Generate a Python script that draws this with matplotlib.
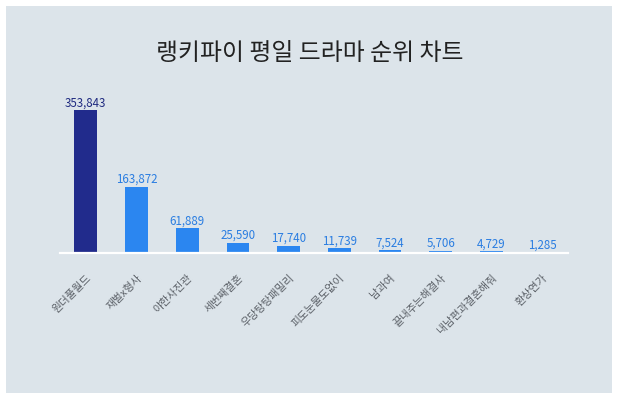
import matplotlib
matplotlib.use("Agg")
import matplotlib.pyplot as plt
from matplotlib.patches import Rectangle

plt.rcParams['font.family'] = ['Noto Sans CJK KR', 'DejaVu Sans']

# 데이터
titles = ['원더풀월드', '재벌x형사', '야한사진관', '세번째결혼', '우당탕탕패밀리',
          '피도눈물도없이', '남과여', '끝내주는해결사', '내남편과결혼해줘', '환상연가']
votes = [353843, 163872, 61889, 25590, 17740, 11739, 7524, 5706, 4729, 1285]
chart_title = '랭키파이 평일 드라마 순위 차트'

bg = '#dce4ea'
top_color = '#212b8c'
bar_color = '#2b86f0'
top_text = '#1f2a80'
bar_text = '#2a7de1'

fig = plt.figure(figsize=(6.2, 3.99), dpi=100, facecolor='white')
# 배경 패널
fig.patches.append(Rectangle((6 / 620, 6 / 399), 606 / 620, 387 / 399,
                             transform=fig.transFigure, facecolor=bg,
                             edgecolor='none', zorder=-5))

ax = fig.add_axes([60 / 620, (399 - 253) / 399, 508 / 620, 143 / 399])
ax.set_facecolor('none')
ax.set_zorder(2)

x = list(range(len(titles)))
colors = [top_color] + [bar_color] * (len(titles) - 1)
ax.bar(x, votes, width=0.45, color=colors, zorder=2)

for i, v in enumerate(votes):
    ax.annotate(f'{v:,}', (i, v), xytext=(0, 5.2), textcoords='offset points',
                ha='center', va='center', fontsize=8.3,
                color=top_text if i == 0 else bar_text, zorder=3,
                annotation_clip=False)

ax.set_xlim(-0.51, len(titles) - 0.49)
ax.set_ylim(0, max(votes))
ax.axhline(0, color='white', lw=1.6, zorder=6, clip_on=False)

for s in ax.spines.values():
    s.set_visible(False)
ax.set_yticks([])
ax.set_xticks(x)
ax.set_xticklabels(titles, rotation=45, ha='right', va='top',
                   rotation_mode='anchor', fontsize=7.7, color='#5a5f66')
ax.tick_params(axis='x', length=0, pad=14.4)

fig.text(0.5, 1 - 54 / 399, chart_title, ha='center', va='center',
         fontsize=17.2, color='#222222')

fig.savefig('out.png', dpi=100, facecolor='white')
